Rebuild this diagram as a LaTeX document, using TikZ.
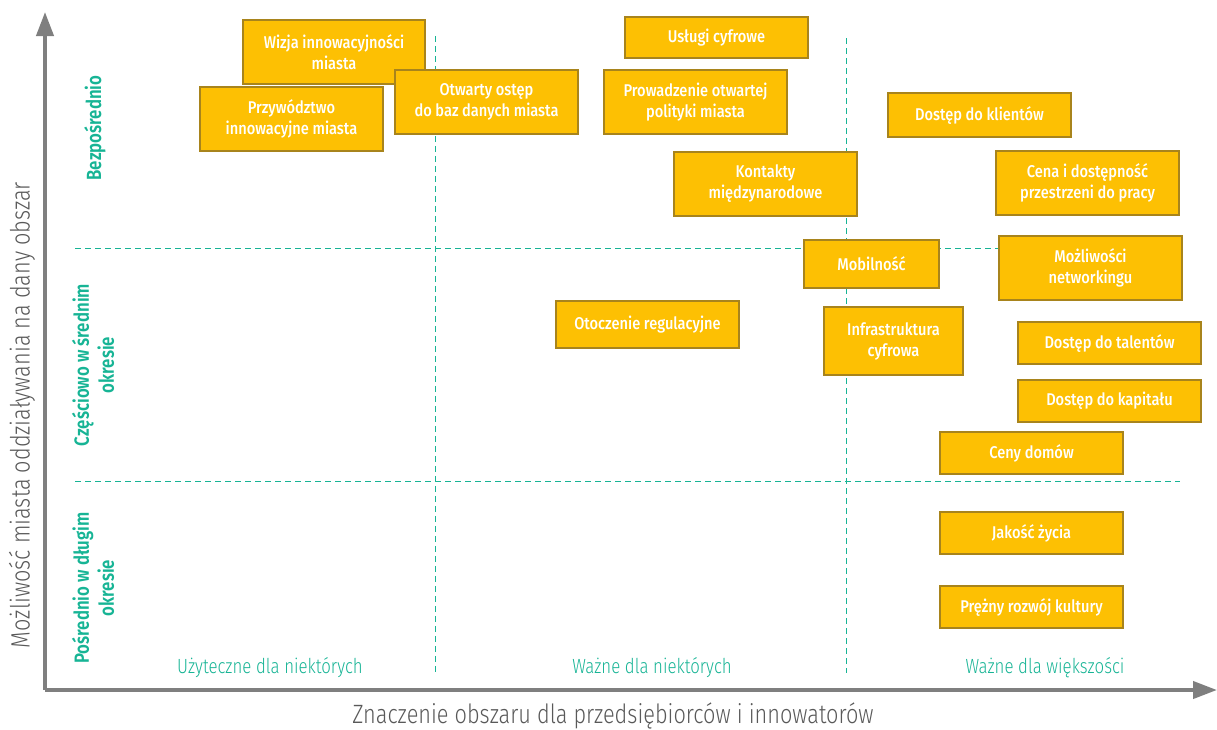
\documentclass[tikz,border=0pt]{standalone}
\usepackage{fontspec}
\setmainfont{Fira Sans}[FakeStretch=0.86]
\newfontfamily\boxfont{Fira Sans Medium}[FakeStretch=0.86]
\newfontfamily\lightfont{Fira Sans Light}[FakeStretch=0.82]
\newfontfamily\semifont{Fira Sans SemiBold}[FakeStretch=0.82]
\usetikzlibrary{arrows.meta}
\definecolor{boxfill}{HTML}{FDC003}
\definecolor{boxline}{HTML}{A8841C}
\definecolor{teal}{HTML}{17B495}
\definecolor{axisgrey}{HTML}{7F7F7F}
\definecolor{titlegrey}{HTML}{595959}
\tikzset{
  box/.style={draw=boxline, line width=1.2pt, fill=boxfill, text=white,
    align=center, inner sep=0pt, font=\boxfont\fontsize{17}{21}\selectfont},
  grid/.style={teal, line width=0.9pt, dash pattern=on 6pt off 4pt},
  axis/.style={axisgrey, line width=4pt, -{Triangle[length=24pt,width=17pt]}},
  rowlabel/.style={teal, align=center, rotate=90, font=\semifont\fontsize{20.5}{25}\selectfont},
  collabel/.style={teal, font=\lightfont\fontsize{20.5}{24}\selectfont},
  axistitle/.style={titlegrey, font=\lightfont\fontsize{26.5}{30}\selectfont},
}
\begin{document}
\begin{tikzpicture}[x=1pt,y=-1pt]
\useasboundingbox (0,0) rectangle (1217,729);

% quadrant grid
\draw[grid] (75,248) -- (1180,248);
\draw[grid] (75,481) -- (1180,481);
\draw[grid] (435,36) -- (435,673);
\draw[grid] (846,38) -- (846,673);

% axes
\coordinate (origin) at (45,690);
\coordinate (ytip) at (45,12);
\coordinate (xtip) at (1217,690);
\draw[axis] (origin) -- (ytip);
\draw[axis] (origin) -- (xtip);

% axis titles
\node[axistitle, rotate=90] (ytitle) at (22,415) {Możliwość miasta oddziaływania na dany obszar};
\node[axistitle] (xtitle) at (613,716) {Znaczenie obszaru dla przedsiębiorców i innowatorów};

% row labels
\node[rowlabel] (row1) at (95,128) {Bezpośrednio};
\node[rowlabel] (row2) at (93,365) {Częściowo w średnim\\okresie};
\node[rowlabel] (row3) at (93,588) {Pośrednio w długim\\okresie};

% column labels
\node[collabel] (col1) at (270,668) {Użyteczne dla niektórych};
\node[collabel] (col2) at (652,668) {Ważne dla niektórych};
\node[collabel] (col3) at (1045,668) {Ważne dla większości};

% areas
\node[box, minimum width=182pt, minimum height=64pt] (wizja) at (334,52) {Wizja innowacyjności\\miasta};
\node[box, minimum width=183pt, minimum height=64pt] (przyw) at (291.5,119) {Przywództwo\\innowacyjne miasta};
\node[box, minimum width=183pt, minimum height=64pt] (otwarty) at (486.5,102) {Otwarty ostęp\\do baz danych miasta};
\node[box, minimum width=183pt, minimum height=41pt] (uslugi) at (716.5,37.5) {Usługi cyfrowe};
\node[box, minimum width=183pt, minimum height=64pt] (polityka) at (695.5,102) {Prowadzenie otwartej\\polityki miasta};
\node[box, minimum width=183pt, minimum height=64pt] (kontakty) at (765.5,184) {Kontakty\\międzynarodowe};
\node[box, minimum width=183pt, minimum height=44pt] (klienci) at (979.5,115) {Dostęp do klientów};
\node[box, minimum width=183pt, minimum height=64pt] (cena) at (1087.5,183) {Cena i dostępność\\przestrzeni do pracy};
\node[box, minimum width=135pt, minimum height=48pt] (mobilnosc) at (871.5,264) {Mobilność};
\node[box, minimum width=183pt, minimum height=64pt] (network) at (1090.5,268) {Możliwości\\networkingu};
\node[box, minimum width=183pt, minimum height=47pt] (regul) at (647.5,324.5) {Otoczenie regulacyjne};
\node[box, minimum width=139pt, minimum height=68pt] (infra) at (893.5,341) {Infrastruktura\\cyfrowa};
\node[box, minimum width=183pt, minimum height=42pt] (talenty) at (1109.5,343) {Dostęp do talentów};
\node[box, minimum width=183pt, minimum height=42pt] (kapital) at (1109.5,401) {Dostęp do kapitału};
\node[box, minimum width=183pt, minimum height=42pt] (domy) at (1031.5,453) {Ceny domów};
\node[box, minimum width=183pt, minimum height=42pt] (zycie) at (1031.5,533) {Jakość życia};
\node[box, minimum width=183pt, minimum height=42pt] (kultura) at (1031.5,607) {Prężny rozwój kultury};
\end{tikzpicture}
\end{document}
